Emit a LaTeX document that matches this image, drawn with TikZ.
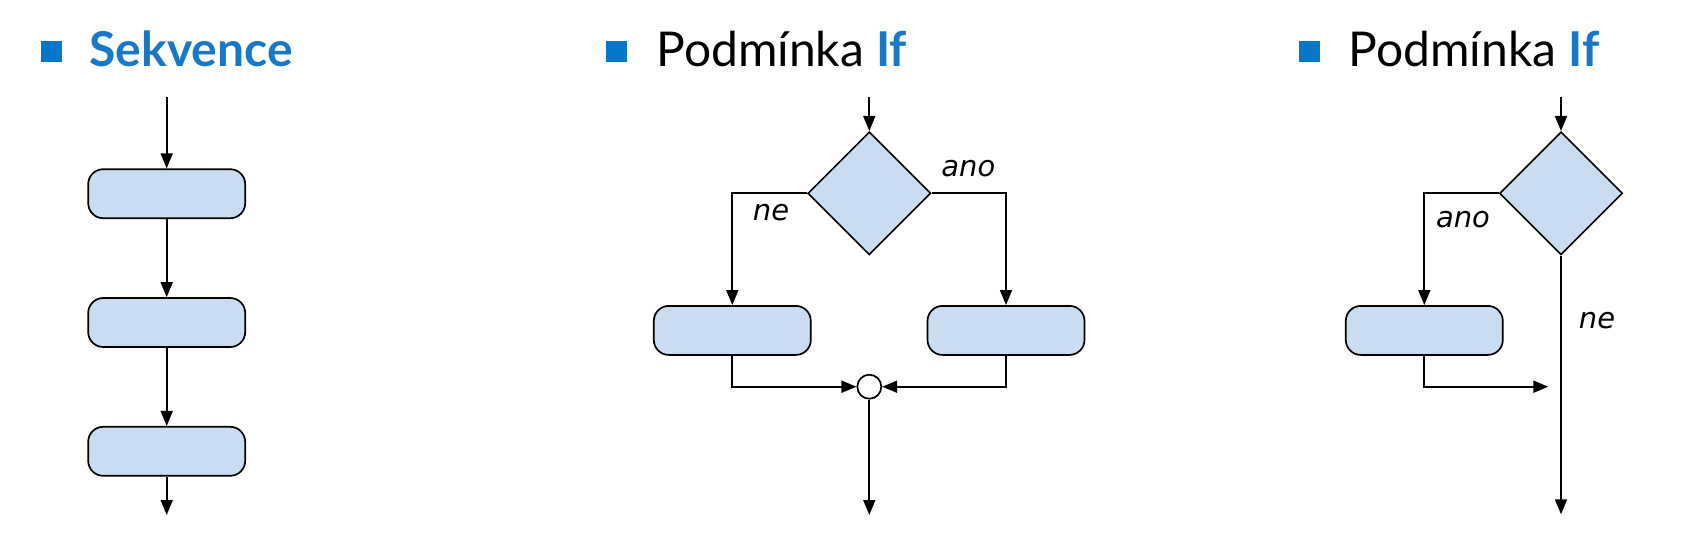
\documentclass[tikz,border=0pt]{standalone}
\usepackage{fontspec}
\setmainfont{Lato}
\newfontfamily\lblfont{DejaVu Sans}
\usetikzlibrary{shapes.geometric,arrows.meta}
\definecolor{boxfill}{HTML}{CADCF1}
\definecolor{titleblue}{HTML}{1877C6}
\definecolor{bulletblue}{HTML}{0677C9}
\tikzset{
 proc/.style={draw, fill=boxfill, rounded corners=7.5pt, minimum width=78.5pt, minimum height=24.5pt, inner sep=0pt, line width=0.85pt},
 dec/.style={draw, fill=boxfill, diamond, aspect=1, minimum width=61.5pt, minimum height=61.5pt, inner sep=0pt, line width=0.8pt},
 flow/.style={-{Triangle[length=7.5pt,width=6pt]}, line width=0.85pt},
 joint/.style={draw, circle, fill=white, minimum size=12pt, inner sep=0pt, line width=0.85pt},
 lbl/.style={font=\lblfont\itshape\fontsize{14.5}{17}\selectfont, anchor=base, inner sep=0pt},
 bulletsq/.style={fill=bulletblue, minimum size=10.5pt, inner sep=0pt},
 ttl/.style={font=\fontsize{24}{28}\selectfont, anchor=base west, inner sep=0pt}
}
\begin{document}
\begin{tikzpicture}[x=0.5pt,y=-0.5pt]
\useasboundingbox (0,0) rectangle (1686,558);
% titles
\node[bulletsq] (b1) at (51.3,51.2) {};
\node[ttl, text=titleblue] (t1) at (89,66.7) {\bfseries Sekvence};
\node[bulletsq] (b2) at (616.3,51.2) {};
\node[ttl] (t2) at (656,66.7) {Podmínka \textcolor{titleblue}{\bfseries If}};
\node[bulletsq] (b3) at (1309.5,51.2) {};
\node[ttl] (t3) at (1348.3,66.7) {Podmínka \textcolor{titleblue}{\bfseries If}};
% sequence
\coordinate (s0) at (166.7,97);
\node[proc] (s1) at (166.7,193.7) {};
\node[proc] (s2) at (166.7,322.5) {};
\node[proc] (s3) at (166.7,451.3) {};
\coordinate (se) at (166.7,515);
\draw[flow] (s0) -- (s1);
\draw[flow] (s1) -- (s2);
\draw[flow] (s2) -- (s3);
\draw[flow] (s3) -- (se);
% if-else
\coordinate (m0) at (869.3,97);
\node[dec] (md) at (869.3,193.3) {};
\node[proc] (ml) at (732.3,330.4) {};
\node[proc] (mr) at (1006,330.4) {};
\node[joint] (mc) at (869.3,386.7) {};
\coordinate (me) at (869.3,515);
\draw[flow] (m0) -- (md);
\draw[flow] (md.west) -| (ml.north);
\draw[flow] (md.east) -| (mr.north);
\draw[flow] (ml.south) |- (mc.west);
\draw[flow] (mr.south) |- (mc.east);
\draw[flow] (mc) -- (me);
\node[lbl] (la1) at (968.3,176.7) {ano};
\node[lbl] (ln1) at (771,220) {ne};
% if
\coordinate (r0) at (1561,97);
\node[dec] (rd) at (1561,193.3) {};
\node[proc] (rb) at (1424.3,330.4) {};
\coordinate (rj) at (1548.3,386.7);
\coordinate (re) at (1561,514.3);
\draw[flow] (r0) -- (rd);
\draw[flow] (rd.west) -| (rb.north);
\draw[flow] (rb.south) |- (rj);
\draw[flow] (rd.south) -- (re);
\node[lbl] (la2) at (1463,227.7) {ano};
\node[lbl] (ln2) at (1597,328.3) {ne};
\end{tikzpicture}
\end{document}
